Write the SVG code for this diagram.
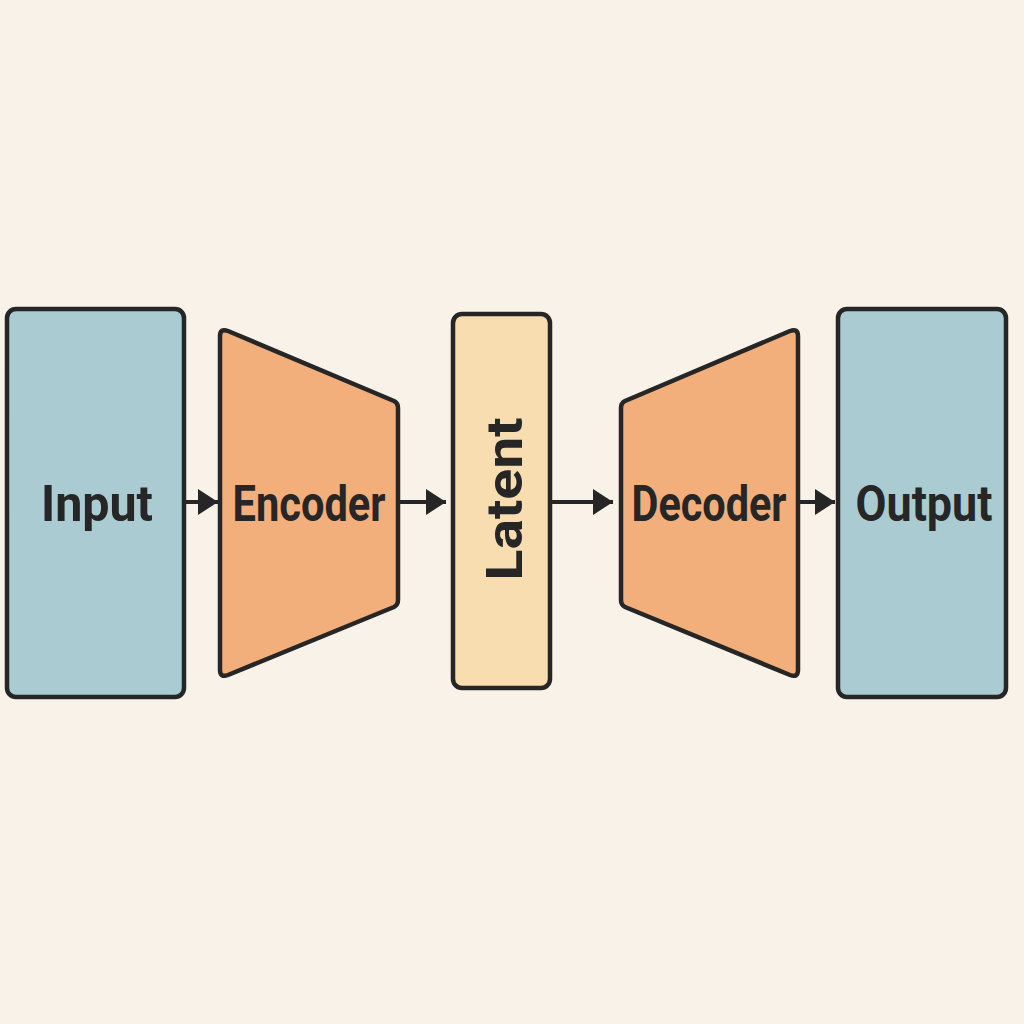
<svg xmlns="http://www.w3.org/2000/svg" width="1024" height="1024" viewBox="0 0 1024 1024">
<defs>
<style>
.box{stroke:#262626;stroke-width:4.5;stroke-linejoin:round}
.blue{fill:#AACBD1}
.orange{fill:#F2AE7B}
.latent{fill:#F8DDB0}
.lbl{font-family:Roboto,"Liberation Sans",sans-serif;font-weight:bold;font-size:50px;fill:#262626;text-anchor:middle}
.conn{stroke:#262626;stroke-width:4;fill:none}
</style>
<marker id="ah" viewBox="0 0 20 26" refX="20" refY="13" markerWidth="20" markerHeight="26" markerUnits="userSpaceOnUse" orient="auto">
<path d="M0,0 L20,13 L0,26 Z" fill="#262626"/>
</marker>
</defs>
<rect width="1024" height="1024" fill="#F8F2E9"/>
<g id="input">
<rect class="box blue" x="7" y="309" width="177" height="388" rx="9"/>
<text class="lbl" x="97" y="521" textLength="112" lengthAdjust="spacingAndGlyphs">Input</text>
</g>
<g id="encoder">
<path class="box orange" d="M220,336 Q220,328 228,331 L394,401 Q398,403 398,408 L398,600 Q398,605 394,607 L228,675 Q220,678 220,670 Z"/>
<text class="lbl" x="309" y="521" textLength="153" lengthAdjust="spacingAndGlyphs">Encoder</text>
</g>
<g id="latent">
<rect class="box latent" x="453" y="314" width="97" height="374" rx="9"/>
<text class="lbl" transform="translate(522 499) rotate(-90)" x="0" y="0" textLength="163" lengthAdjust="spacingAndGlyphs">Latent</text>
</g>
<g id="decoder">
<path class="box orange" d="M798,336 Q798,328 790,331 L625,401 Q621,403 621,408 L621,600 Q621,605 625,607 L790,675 Q798,678 798,670 Z"/>
<text class="lbl" x="709" y="521" textLength="155" lengthAdjust="spacingAndGlyphs">Decoder</text>
</g>
<g id="output">
<rect class="box blue" x="838" y="309" width="168" height="388" rx="9"/>
<text class="lbl" x="924" y="521" textLength="137" lengthAdjust="spacingAndGlyphs">Output</text>
</g>
<g id="connectors">
<line class="conn" x1="186" y1="502" x2="218" y2="502" marker-end="url(#ah)"/>
<line class="conn" x1="400" y1="502" x2="446" y2="502" marker-end="url(#ah)"/>
<line class="conn" x1="552" y1="502" x2="613" y2="502" marker-end="url(#ah)"/>
<line class="conn" x1="800" y1="502" x2="835" y2="502" marker-end="url(#ah)"/>
</g>
</svg>
